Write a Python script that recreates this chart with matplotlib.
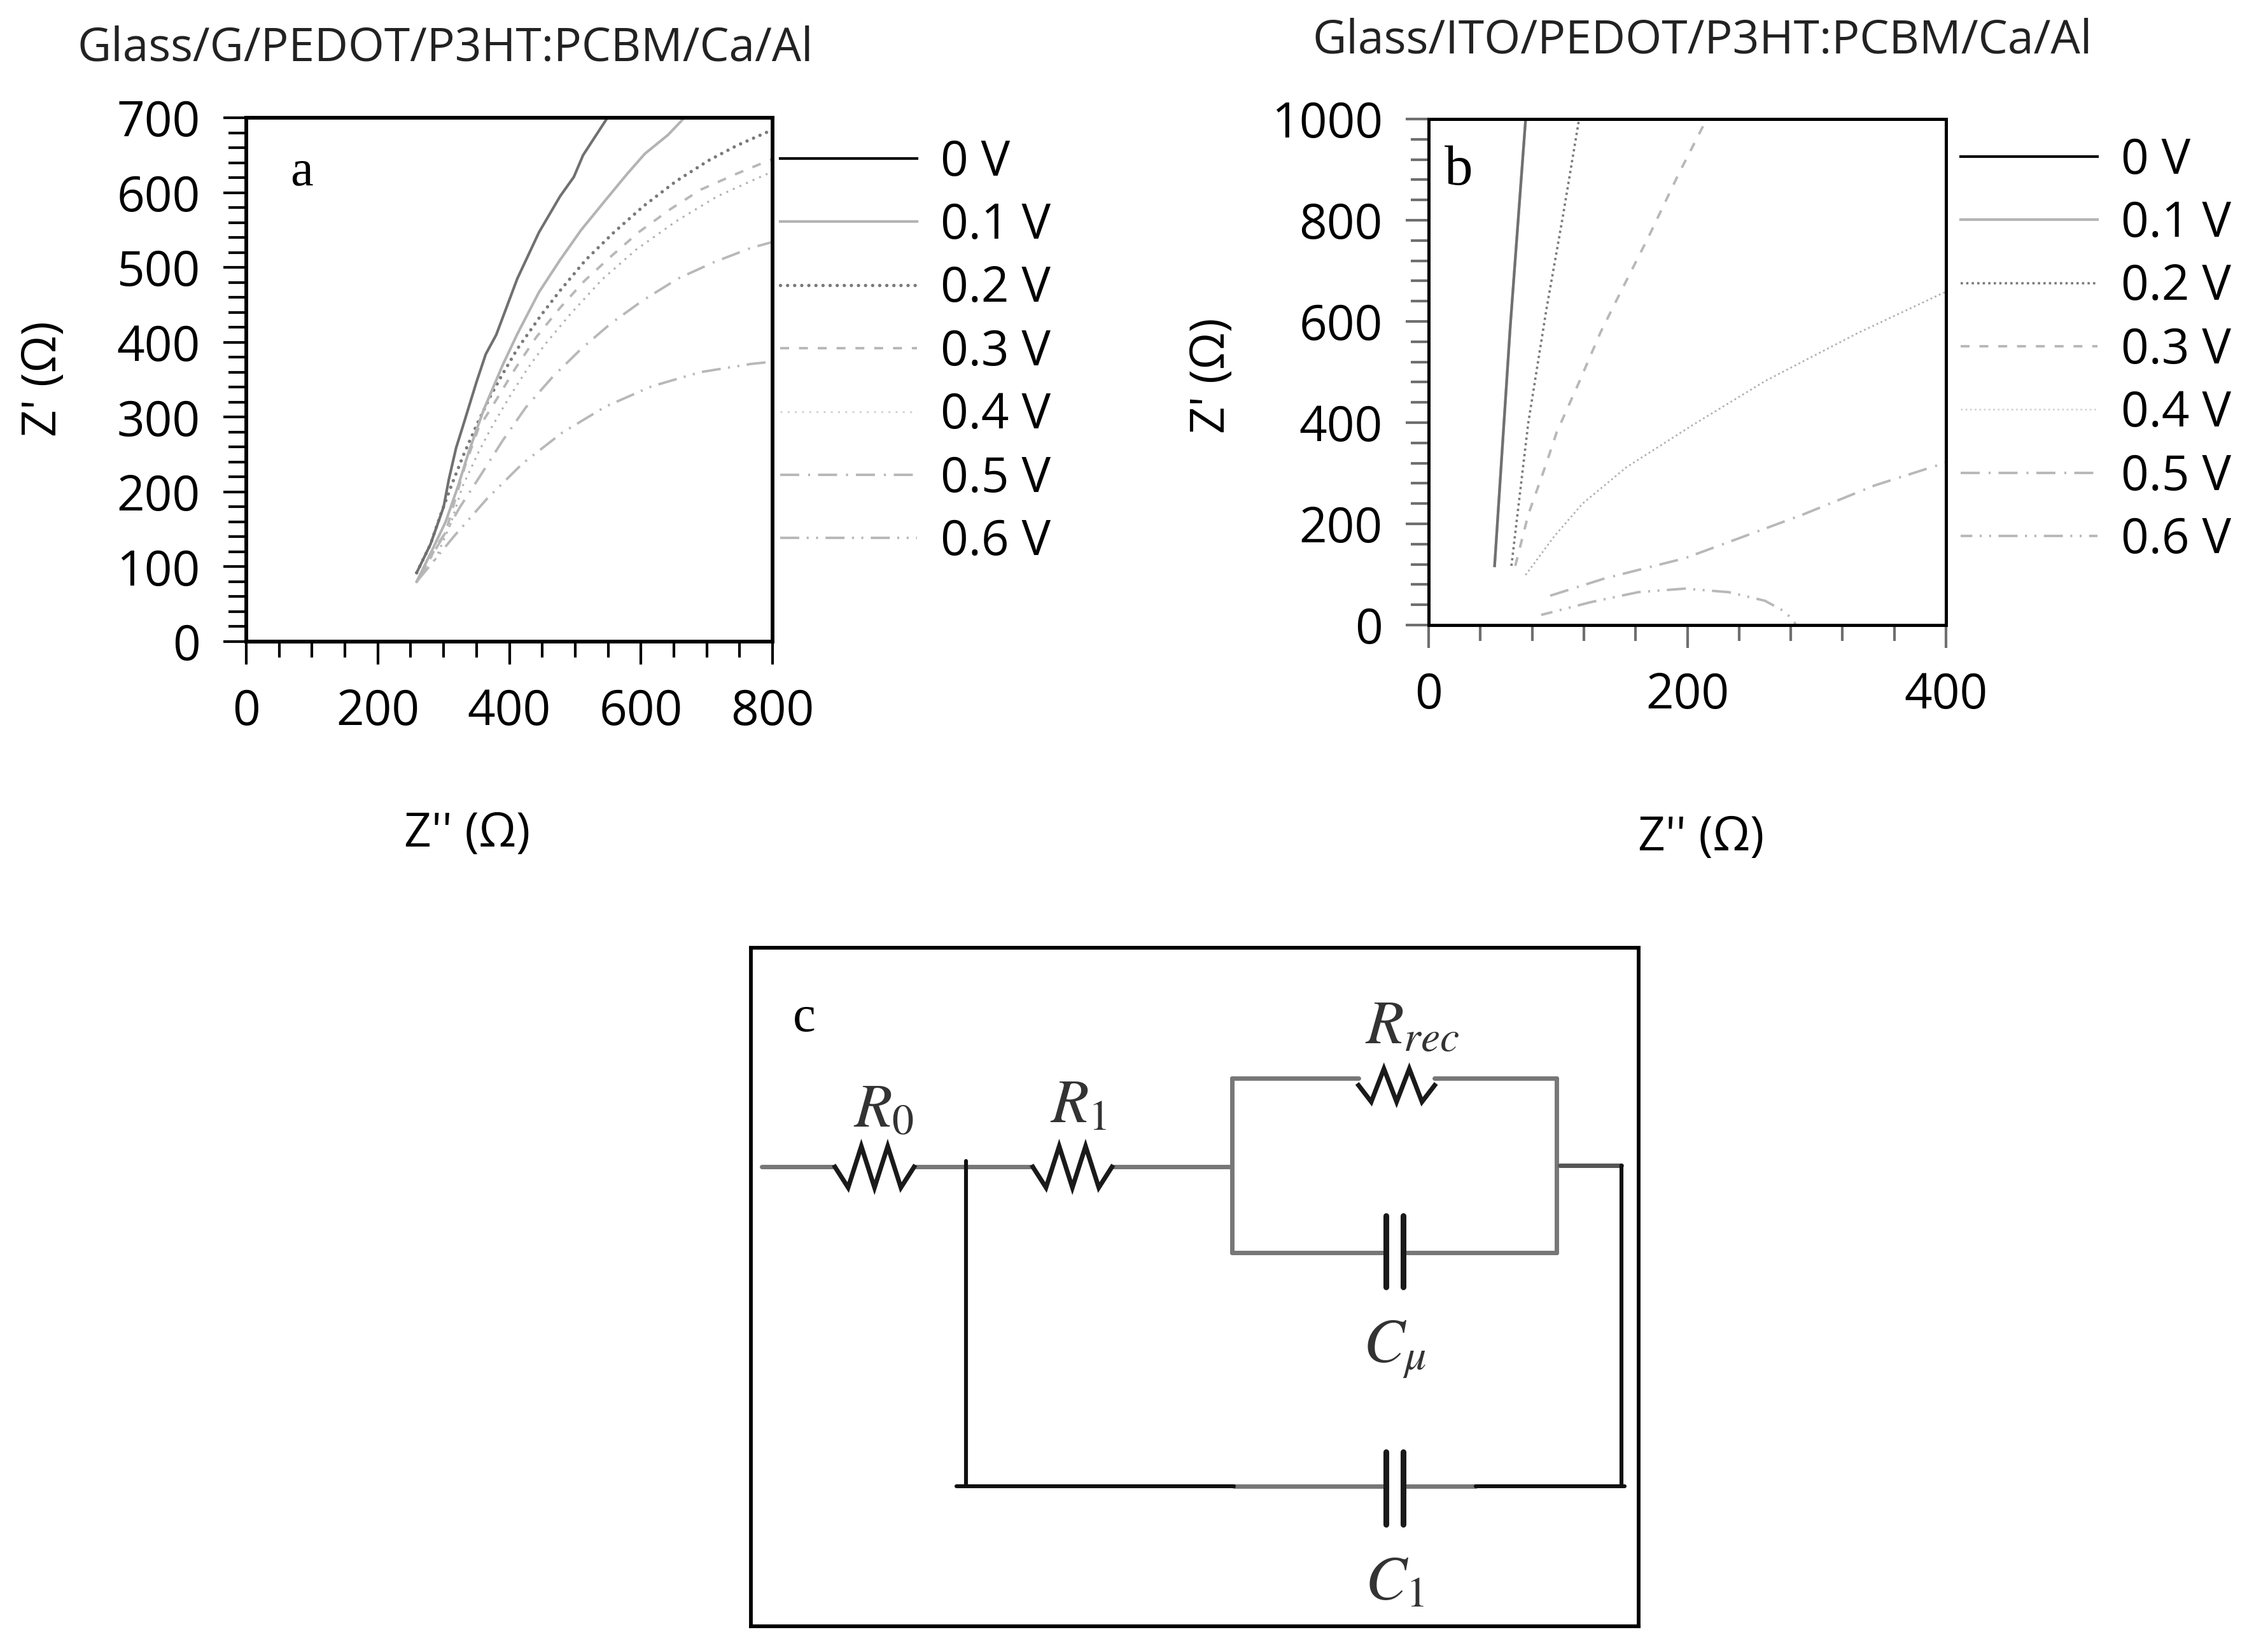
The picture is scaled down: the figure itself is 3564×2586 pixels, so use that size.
import matplotlib
matplotlib.use("Agg")
import matplotlib.pyplot as plt
from matplotlib.ticker import MultipleLocator

W, H = 3564, 2586
plt.rcParams['font.family'] = ['Open Sans', 'DejaVu Sans']
plt.rcParams['mathtext.fontset'] = 'stix'

legend_labels = ['0 V', '0.1 V', '0.2 V', '0.3 V', '0.4 V', '0.5 V', '0.6 V']

# Panel a: Z'' (x), Z' (y)
a_x = {
 '0 V':   [259,280,300,308,319,329,350,364,380,412,445,477,498,512,549],
 '0.1 V': [259,283,303,322,338,361,390,412,445,477,509,548,580,606,641,666],
 '0.2 V': [259,280,296,312,330,350,370,388,412,448,477,516,559,604,653,703,746,800],
 '0.3 V': [266,290,303,333,353,380,409,441,477,514,556,598,645,691,745,800],
 '0.4 V': [287,311,329,353,372,400,427,454,493,541,593,654,716,774,800],
 '0.5 V': [259,303,325,356,390,425,466,509,554,603,656,711,767,800],
 '0.6 V': [259,316,366,420,480,546,616,690,767,800],
}
a_y = {
 '0 V':   [92,130,180,217,259,287,347,384,410,485,547,595,621,650,700],
 '0.1 V': [80,123,160,208,253,310,370,411,467,510,550,592,626,652,677,700],
 '0.2 V': [92,130,171,209,249,289,326,355,391,436,469,510,547,582,615,643,663,684],
 '0.3 V': [88,129,146,236,285,323,365,407,446,482,516,548,578,604,625,645],
 '0.4 V': [109,158,208,253,285,327,364,397,438,484,524,562,595,618,628],
 '0.5 V': [80,146,180,222,269,313,354,391,425,456,485,507,526,534],
 '0.6 V': [80,141,191,238,279,314,341,360,371,374],
}
a_xticks = [0, 200, 400, 600, 800]
a_yticks = [0, 100, 200, 300, 400, 500, 600, 700]

# Panel b
b_x = {
 '0 V':   [51,63,75],
 '0.1 V': [51,63,75],
 '0.2 V': [64,77,91,104,116],
 '0.3 V': [67,77,90,99,116,133,150,170,193,215],
 '0.4 V': [75,97,119,153,204,260,331,400],
 '0.5 V': [94,136,198,232,289,345,400],
 '0.6 V': [87,125,162,198,232,260,275,282,284],
}
b_y = {
 '0 V':   [117,586,1000],
 '0.1 V': [117,586,1000],
 '0.2 V': [117,399,623,811,995],
 '0.3 V': [117,218,312,381,478,579,666,767,890,1000],
 '0.4 V': [99,175,240,312,395,482,576,659],
 '0.5 V': [58,92,132,164,218,276,321],
 '0.6 V': [20,45,65,72,65,48,27,9,0],
}
b_xticks = [0, 200, 400]
b_yticks = [0, 200, 400, 600, 800, 1000]

# Styles: (colour, linewidth, dashes, legend colour, cap)
styles_a = {
 '0 V':   ('#707070', 3.0, None, '#000000', 'butt'),
 '0.1 V': ('#b4b4b4', 3.0, None, '#b4b4b4', 'butt'),
 '0.2 V': ('#7a7a7a', 3.8, (0, (0.01, 2.1)), '#7a7a7a', 'round'),
 '0.3 V': ('#b8b8b8', 2.8, (0, (3.6, 4)), '#b8b8b8', 'butt'),
 '0.4 V': ('#b0b0b0', 2.2, (0, (1, 2.7)), '#d4d4d4', 'butt'),
 '0.5 V': ('#b8b8b8', 2.8, (0, (7.7, 3.6, 0.8, 3.2)), '#b8b8b8', 'butt'),
 '0.6 V': ('#b8b8b8', 2.8, (0, (7.7, 3, 0.8, 3, 0.8, 3)), '#b8b8b8', 'butt'),
}
styles_b = dict(styles_a)
styles_b['0.2 V'] = ('#7a7a7a', 2.6, (0, (1, 1.4)), '#7a7a7a', 'butt')
styles_b['0.4 V'] = ('#b0b0b0', 2.0, (0, (1, 1.6)), '#d4d4d4', 'butt')
styles_b['0.6 V'] = ('#b8b8b8', 2.8, (3, (7.7, 3, 0.8, 3, 0.8, 3)), '#b8b8b8', 'butt')

fig = plt.figure(figsize=(W/100, H/100), dpi=100, facecolor='white')

def px_axes(l, t, r, b):
    return fig.add_axes([l/W, 1-b/H, (r-l)/W, (b-t)/H])

def ftext(x, y, s, **kw):
    kw.setdefault('ha', 'center'); kw.setdefault('va', 'center')
    fig.text(x/W, 1-y/H, s, **kw)

FS = 55

def panel(ax, xs, ys, styles, xlim, ylim, xt, yt, xminor, yminor, edge, lw, letter, leg_x):
    for i, lab in enumerate(legend_labels):
        c, w, d, _, cap = styles[lab]
        kw = {} if d is None else {'linestyle': d, 'dash_capstyle': cap}
        ax.plot(xs[lab], ys[lab], color=c, lw=w, label=lab, zorder=3 - i * 0.1,
                solid_joinstyle='round', **kw)
    ax.set_xlim(*xlim); ax.set_ylim(*ylim)
    ax.set_xticks(xt); ax.set_yticks(yt)
    ax.xaxis.set_minor_locator(MultipleLocator(xminor))
    ax.yaxis.set_minor_locator(MultipleLocator(yminor))
    ax.tick_params(which='major', length=26, width=3, color=edge, labelsize=FS, pad=26, labelcolor='black')
    ax.tick_params(which='minor', length=20, width=3, color=edge)
    ax.tick_params(axis='x', which='minor', length=18)
    for s in ax.spines.values():
        s.set_linewidth(lw); s.set_color('black'); s.set_zorder(5)
    ax.text(letter[1], letter[2], letter[0], transform=ax.transAxes, family='Liberation Serif',
            fontsize=letter[3], ha='center', va='center')
    leg = ax.legend(loc='upper left', bbox_to_anchor=leg_x, frameon=False, fontsize=FS,
                    handlelength=2.82, handletextpad=0.48, labelspacing=0.30, borderpad=0, borderaxespad=0)
    for h, lab in zip(leg.get_lines(), legend_labels):
        h.set_color(styles[lab][3])
    return ax

axa = px_axes(387, 185, 1214, 1008)
panel(axa, a_x, a_y, styles_a, (0, 800), (0, 700), a_xticks, a_yticks, 50, 20, 'black', 4.2,
      ('a', 0.105, 0.895, 58), (1.014, 0.961))
axa.plot([0, 245], [0, 0], color='black', lw=4, clip_on=False, zorder=6)

axb = px_axes(2245, 187, 3058, 982)
panel(axb, b_x, b_y, styles_b, (0, 400), (0, 1000), b_xticks, b_yticks, 40, 40, '#6f6f6f', 3.6,
      ('b', 0.058, 0.897, 64), (1.028, 0.966))

ftext(700, 76, 'Glass/G/PEDOT/P3HT:PCBM/Ca/Al', fontsize=52.6, color='#222222')
ftext(2675, 64, 'Glass/ITO/PEDOT/P3HT:PCBM/Ca/Al', fontsize=52.8, color='#222222')
ftext(734, 1311, "Z'' (Ω)", fontsize=54)
ftext(2673, 1316, "Z'' (Ω)", fontsize=54)
ftext(68, 595, "Z' (Ω)", fontsize=54, rotation=90)
ftext(1905, 590, "Z' (Ω)", fontsize=54, rotation=90)

# Panel c: circuit diagram
axc = px_axes(1180, 1489, 2575, 2555)
axc.set_xlim(32, 1490); axc.set_ylim(1520, 40)
axc.set_xticks([]); axc.set_yticks([])
for s in axc.spines.values():
    s.set_linewidth(4.2); s.set_color('black')

wires_grey = [
 ((50, 170), (518, 518)), ((300, 495), (518, 518)), ((625, 820), (518, 518)),
 ((822, 1030), (325, 325)), ((1155, 1355), (325, 325)),
 ((822, 822), (325, 705)), ((1355, 1355), (325, 705)),
 ((822, 1072), (705, 705)), ((1105, 1355), (705, 705)),
 ((825, 1072), (1215, 1215)), ((1105, 1222), (1215, 1215)),
]
wires_black = [
 ((385, 385), (505, 1215)), ((370, 825), (1215, 1215)), ((1222, 1467), (1215, 1215)),
 ((1462, 1462), (515, 1215)),
]
wires_dark = [((1360, 1462), (515, 515))]
plates = [
 ((1075, 1075), (625, 780)), ((1103, 1103), (625, 780)),
 ((1075, 1075), (1140, 1298)), ((1103, 1103), (1140, 1298)),
]
for xx, yy in wires_grey:
    axc.plot(xx, yy, color='#777777', lw=5, solid_capstyle='round')
for xx, yy in wires_dark:
    axc.plot(xx, yy, color='#555555', lw=5, solid_capstyle='round')
for xx, yy in wires_black:
    axc.plot(xx, yy, color='#111111', lw=4.4, solid_capstyle='round')
for xx, yy in plates:
    axc.plot(xx, yy, color='#1a1a1a', lw=6.5, solid_capstyle='round')

def resistor(x0, x1, yc, amp=38):
    n = 6
    xs = [x0 + (x1 - x0) * i / n for i in range(n + 1)]
    ys = [yc] + [yc + (amp if i % 2 else -amp) for i in range(1, n)] + [yc]
    axc.plot(xs, ys, color='#1a1a1a', lw=5.2, solid_joinstyle='miter')

resistor(170, 300, 518, 45)
resistor(495, 625, 518, 45)
resistor(1030, 1155, 340, 36)

labels_c = [(250, 395, r'$R_0$'), (570, 385, r'$R_1$'), (1118, 215, r'$R_{rec}$'),
            (1090, 915, r'$C_{\mu}$'), (1090, 1425, r'$C_1$')]
for x, y, s in labels_c:
    axc.text(x, y, s, fontsize=70, ha='center', va='center', color='#333333')
axc.text(120, 195, 'c', family='Liberation Serif', fontsize=58, ha='center', va='center')

fig.savefig('out.png', dpi=100, facecolor='white')
